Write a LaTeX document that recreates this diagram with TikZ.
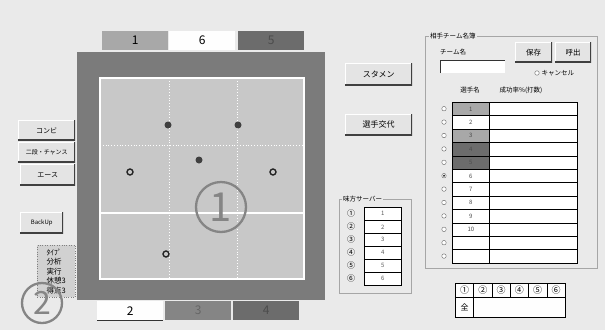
\documentclass[tikz,border=0pt]{standalone}
\usepackage{fontspec}
\setmainfont{Noto Sans CJK JP}
\usetikzlibrary{positioning}

\definecolor{bg}{HTML}{EAEAEA}
\definecolor{btnface}{HTML}{E4E4E4}
\definecolor{frame}{HTML}{7B7B7B}
\definecolor{court}{HTML}{C8C8C8}
\definecolor{midgray}{HTML}{A8A8A8}
\definecolor{darkgray}{HTML}{6C6C6C}
\definecolor{markgray}{HTML}{858585}

\tikzset{
  tab/.style={anchor=north west, inner sep=0pt, minimum width=66pt, minimum height=19pt, font=\fontsize{12}{12}\selectfont},
  btn/.style={anchor=north west, inner sep=0pt, fill=btnface, font=\fontsize{7}{8}\selectfont,
    path picture={
      \draw[white, line width=1.6pt] (path picture bounding box.south west) -- (path picture bounding box.north west) -- (path picture bounding box.north east);
      \draw[black!75, line width=2pt] (path picture bounding box.south west) -- (path picture bounding box.south east) -- (path picture bounding box.north east);}},
  player/.style={circle, fill=black!75, inner sep=0pt, minimum size=7pt},
  openplayer/.style={circle, draw=black!85, fill=court, line width=1.4pt, inner sep=0pt, minimum size=6pt},
  bigmark/.style={circle, draw=markgray, line width=2.3pt, text=markgray, inner sep=0pt},
  label/.style={inner sep=0pt, font=\fontsize{6.5}{7}\selectfont},
  cell/.style={draw=black, line width=0.7pt, anchor=north west, inner sep=0pt, font=\fontsize{6}{6}\selectfont},
  radio/.style={circle, draw=black!60, fill=white, inner sep=0pt, minimum size=4.5pt},
  group/.style={draw=black!35, line width=0.6pt}
}

\begin{document}
\begin{tikzpicture}[x=1pt,y=-1pt]
\useasboundingbox (0,0) rectangle (605,330);
\fill[bg] (0,0) rectangle (605,330);

% upper tabs
\node[tab, fill=midgray] (tabone) at (102,31) {1};
\node[tab, fill=white!95!bg] (tabsix) at (169,31) {6};
\node[tab, fill=darkgray, text=black!70] (tabfive) at (238,31) {5};

% court
\fill[frame] (77,52) rectangle (325,300);
\fill[court] (100,78) rectangle (304,279);
\draw[white, line width=1.2pt] (100,78) rectangle (304,279);
\draw[white, dotted, line width=0.8pt] (169,78) -- (169,279);
\draw[white, dotted, line width=0.8pt] (237,78) -- (237,279);
\draw[white, dotted, line width=0.8pt] (100,145) -- (304,145);
\draw[white, line width=1.2pt] (100,213) -- (304,213);

% lower tabs
\node[tab, fill=white!95!bg] (tabtwo) at (97,301) {2};
\node[tab, fill=markgray, text=black!60] (tabthree) at (165,301) {3};
\node[tab, fill=darkgray, text=black!70] (tabfour) at (233,301) {4};
\draw[black!80, line width=0.8pt] (tabtwo.south west) -- (tabtwo.south east);

% players
\node[player] (pa) at (168,125) {};
\node[player] (pb) at (238,125) {};
\node[player] (pc) at (199,160) {};
\node[openplayer] (pd) at (130,172) {};
\node[openplayer] (pe) at (273,172) {};
\node[openplayer] (pf) at (166,254) {};

\node[bigmark, minimum size=50pt, font=\fontsize{40}{40}\selectfont] (markone) at (221,207) {1};

% left buttons
\node[btn, minimum width=57pt, minimum height=20pt] (combi) at (18,120) {コンビ};
\node[btn, minimum width=57pt, minimum height=20pt, font=\fontsize{6}{7}\selectfont] (chance) at (18,142) {二段・チャンス};
\node[btn, minimum width=55pt, minimum height=21pt] (ace) at (20,164) {エース};
\node[btn, minimum width=43pt, minimum height=21pt, font=\fontsize{6}{7}\selectfont] (backup) at (20,212) {BackUp};

\node[draw=black!50, dotted, fill=black!18, anchor=north west, inner sep=1pt,
      minimum width=38pt, minimum height=52pt, align=left,
      font=\fontsize{7.5}{9.5}\selectfont] (typebox) at (37,245)
      {ﾀｲﾌﾟ\\分析\\実行\\休憩3\\得点3};
\node[bigmark, minimum size=40pt, font=\fontsize{32}{32}\selectfont] (marktwo) at (42,303) {2};

% middle buttons
\node[btn, minimum width=67pt, minimum height=22pt, font=\fontsize{8}{9}\selectfont] (starting) at (345,63) {スタメン};
\node[btn, minimum width=67pt, minimum height=21pt, font=\fontsize{8}{9}\selectfont] (change) at (345,114) {選手交代};

% own servers
\draw[group] (339,199) rectangle (411,293);
\node[label, fill=bg, anchor=west, inner sep=1pt] (servtitle) at (342,199) {味方サーバー};
\foreach \i/\c in {1/①,2/②,3/③,4/④,5/⑤,6/⑥} {
  \node[label, font=\fontsize{8}{8}\selectfont] (srvno\i) at (351,{213+13*(\i-1)}) {\c};
  \node[cell, fill=white, minimum width=37pt, minimum height=13pt, text=black!65] (srv\i) at (364,{207+13*(\i-1)}) {\i};
}

% opponent roster
\draw[group] (425,36) rectangle (597,268);
\node[label, fill=bg, anchor=west, inner sep=1pt] (rosttitle) at (429,36) {相手チーム名簿};
\node[label, anchor=west] (teamlbl) at (440,52) {チーム名};
\fill[white] (440,60) rectangle (505,73);
\draw[black!80, line width=0.8pt] (440,73) -- (440,60) -- (505,60);
\node[btn, minimum width=37pt, minimum height=20pt, font=\fontsize{7.5}{8}\selectfont] (save) at (515,42) {保存};
\node[btn, minimum width=36pt, minimum height=20pt, font=\fontsize{7.5}{8}\selectfont] (load) at (555,42) {呼出};
\node[radio] (cancelbtn) at (537,73) {};
\node[label, right=2pt of cancelbtn] (cancel) {キャンセル};
\node[label] (namehead) at (470,90) {選手名};
\node[label] (ratehead) at (521,90) {成功率\%(打数)};

\foreach \i/\col/\t in {1/midgray/1,2/white/2,3/midgray/3,4/darkgray/4,5/darkgray/5,6/white/6,7/white/7,8/white/8,9/white/9,10/white/10,11/white/,12/white/} {
  \node[cell, fill=\col, minimum width=37pt, minimum height=13.4pt, text=black!70] (name\i) at (452,{102+13.4*(\i-1)}) {\t};
  \node[cell, fill=white, minimum width=88pt, minimum height=13.4pt] (rate\i) at (489,{102+13.4*(\i-1)}) {};
  \node[radio] (sel\i) at (444,{108.7+13.4*(\i-1)}) {};
}
\fill[black!80] (sel6.center) circle (1.2pt);

% bottom table
\foreach \i/\c in {1/①,2/②,3/③,4/④,5/⑤,6/⑥} {
  \node[cell, fill=white!96!bg, minimum width=18.3pt, minimum height=14pt, font=\fontsize{9}{9}\selectfont] (rot\i) at ({455+18.3*(\i-1)},283) {\c};
}
\node[cell, fill=white!96!bg, minimum width=18.3pt, minimum height=20pt, font=\fontsize{8}{8}\selectfont] (total) at (455,297) {全};
\node[cell, fill=white!96!bg, minimum width=91.5pt, minimum height=20pt] (totalval) at (473.3,297) {};
\end{tikzpicture}
\end{document}
